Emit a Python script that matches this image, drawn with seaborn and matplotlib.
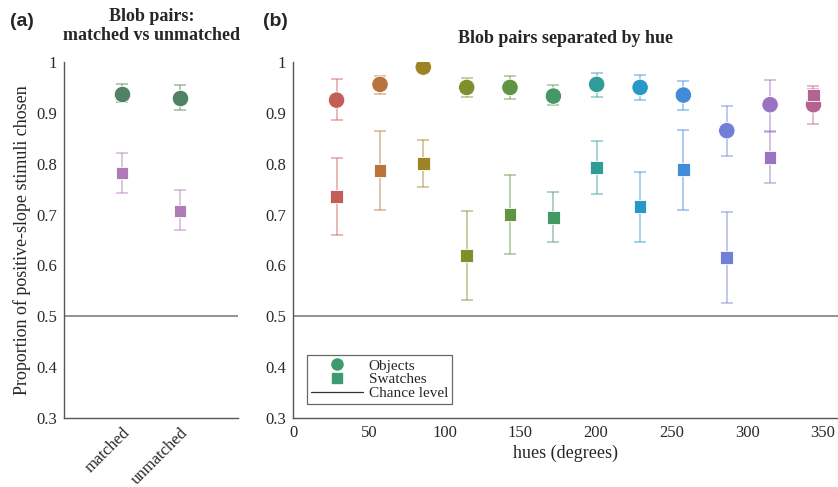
import numpy as np
import pandas as pd
import matplotlib
matplotlib.use("Agg")
import matplotlib.pyplot as plt
from matplotlib.lines import Line2D
import seaborn as sns

# ---------------- data ----------------
conditions = ["matched", "unmatched"]
cond_obj = [0.938, 0.930]
cond_obj_lo = [0.921, 0.906]
cond_obj_hi = [0.957, 0.955]
cond_sw = [0.781, 0.707]
cond_sw_lo = [0.742, 0.669]
cond_sw_hi = [0.822, 0.748]

hues = [28.6, 57.3, 85.9, 114.6, 143.2, 171.9, 200.5, 229.2, 257.8, 286.5, 315.1, 343.8]
obj = [0.925, 0.956, 0.990, 0.950, 0.950, 0.933, 0.956, 0.950, 0.935, 0.865, 0.916, 0.916]
obj_lo = [0.885, 0.938, 0.986, 0.931, 0.927, 0.915, 0.931, 0.926, 0.906, 0.816, 0.863, 0.878]
obj_hi = [0.966, 0.973, 0.994, 0.969, 0.973, 0.954, 0.979, 0.975, 0.963, 0.914, 0.965, 0.946]
sw = [0.735, 0.787, 0.800, 0.620, 0.700, 0.695, 0.792, 0.716, 0.788, 0.616, 0.812, 0.935]
sw_lo = [0.659, 0.709, 0.754, 0.533, 0.622, 0.646, 0.740, 0.646, 0.709, 0.527, 0.762, 0.918]
sw_hi = [0.811, 0.864, 0.847, 0.707, 0.778, 0.744, 0.845, 0.784, 0.867, 0.705, 0.864, 0.952]
hue_colors = ["#c25e55", "#b8743a", "#9c8424", "#808f2c", "#5e9444", "#439866",
              "#309c98", "#2a98c6", "#418bd9", "#7080d6", "#9a72c2", "#b4628f"]
obj_color_a = "#4f8262"
sw_color_a = "#b07ab6"
chance = 0.5

# ---------------- figure ----------------
sns.set_style("white")
plt.rcParams["font.family"] = ["Liberation Serif", "DejaVu Serif"]
fig = plt.figure(figsize=(8.38, 4.87), dpi=100)
W, H = 838, 487
y_top, y_bot = 62, 418
axA = fig.add_axes([64.3 / W, 1 - y_bot / H, 174 / W, (y_bot - y_top) / H])
axB = fig.add_axes([293.3 / W, 1 - y_bot / H, 544.7 / W, (y_bot - y_top) / H])

spine_col = "#555555"
for ax in (axA, axB):
    for s in ("top", "right"):
        ax.spines[s].set_visible(False)
    for s in ("left", "bottom"):
        ax.spines[s].set_color(spine_col)
        ax.spines[s].set_linewidth(1.0)
    ax.set_ylim(0.3, 1.0)
    ax.set_yticks([0.3, 0.4, 0.5, 0.6, 0.7, 0.8, 0.9, 1.0])
    ax.set_yticklabels(["0.3", "0.4", "0.5", "0.6", "0.7", "0.8", "0.9", "1"])
    ax.tick_params(direction="in", length=4, width=0.8, color=spine_col,
                   labelsize=12, labelcolor="#2a2a2a", pad=5)
    ax.axhline(chance, color="#8a8a8a", lw=1.3, zorder=1)

CIRC_S = 140
SQ_S = 85

# ----- panel (a) -----
xa = [1, 2]
dfA = pd.DataFrame({"x": xa * 2, "y": cond_obj + cond_sw,
                    "kind": ["Objects"] * 2 + ["Swatches"] * 2})
for i in range(2):
    axA.errorbar(xa[i], cond_obj[i],
                 yerr=[[cond_obj[i] - cond_obj_lo[i]], [cond_obj_hi[i] - cond_obj[i]]],
                 color=obj_color_a, alpha=0.55, capsize=4.5, lw=1.1, capthick=1.1, zorder=2)
    axA.errorbar(xa[i], cond_sw[i],
                 yerr=[[cond_sw[i] - cond_sw_lo[i]], [cond_sw_hi[i] - cond_sw[i]]],
                 color=sw_color_a, alpha=0.55, capsize=4.5, lw=1.1, capthick=1.1, zorder=2)
sns.scatterplot(data=dfA[dfA.kind == "Objects"], x="x", y="y", ax=axA, marker="o",
                s=CIRC_S, color=obj_color_a, edgecolor="white", linewidth=0.6, zorder=3, legend=False)
sns.scatterplot(data=dfA[dfA.kind == "Swatches"], x="x", y="y", ax=axA, marker="s",
                s=SQ_S, color=sw_color_a, edgecolor="white", linewidth=0.6, zorder=3, legend=False)
axA.set_xlim(0, 3)
axA.set_xticks(xa)
axA.set_xticklabels(conditions, rotation=45, ha="right", rotation_mode="anchor")
axA.set_xlabel("")
axA.set_ylabel("Proportion of positive-slope stimuli chosen", fontsize=13, labelpad=4)
axA.set_title("Blob pairs:\nmatched vs unmatched", fontsize=13, fontweight="bold",
              linespacing=1.15, pad=16)

# ----- panel (b) -----
dfO = pd.DataFrame({"hue": hues, "y": obj, "idx": range(len(hues))})
dfS = pd.DataFrame({"hue": hues, "y": sw, "idx": range(len(hues))})
for i, h in enumerate(hues):
    c = hue_colors[i]
    axB.errorbar(h, obj[i], yerr=[[obj[i] - obj_lo[i]], [obj_hi[i] - obj[i]]],
                 color=c, alpha=0.55, capsize=4.5, lw=1.1, capthick=1.1, zorder=2)
    axB.errorbar(h, sw[i], yerr=[[sw[i] - sw_lo[i]], [sw_hi[i] - sw[i]]],
                 color=c, alpha=0.55, capsize=4.5, lw=1.1, capthick=1.1, zorder=2)
sns.scatterplot(data=dfO, x="hue", y="y", hue="idx", palette=hue_colors, ax=axB,
                marker="o", s=CIRC_S, edgecolor="white", linewidth=0.6, zorder=3, legend=False)
sns.scatterplot(data=dfS, x="hue", y="y", hue="idx", palette=hue_colors, ax=axB,
                marker="s", s=SQ_S, edgecolor="white", linewidth=0.6, zorder=4, legend=False)
axB.set_xlim(0, 360)
axB.set_xticks([0, 50, 100, 150, 200, 250, 300, 350])
axB.set_xlabel("hues (degrees)", fontsize=13, labelpad=3)
axB.set_ylabel("")
axB.set_title("Blob pairs separated by hue", fontsize=13, fontweight="bold", pad=14)

leg_c = "#3f9a70"
handles = [Line2D([], [], marker="o", ls="none", color=leg_c, markersize=8),
           Line2D([], [], marker="s", ls="none", color=leg_c, markersize=6.5),
           Line2D([], [], color="#333333", lw=0.9)]
leg = axB.legend(handles, ["Objects", "Swatches", "Chance level"], loc="lower left",
                 bbox_to_anchor=(0.025, 0.04), fontsize=11, frameon=True, fancybox=False,
                 handlelength=3.4, handletextpad=0.4, borderpad=0.25, labelspacing=0.0,
                 borderaxespad=0)
leg.get_frame().set_edgecolor("#444444")
leg.get_frame().set_linewidth(0.9)

fig.text(10 / W, 1 - 22 / H, "(a)", fontsize=14, fontweight="bold",
         family=["Liberation Sans", "DejaVu Sans"], va="center")
fig.text(263 / W, 1 - 22 / H, "(b)", fontsize=14, fontweight="bold",
         family=["Liberation Sans", "DejaVu Sans"], va="center")

fig.savefig("out.png", dpi=100)
